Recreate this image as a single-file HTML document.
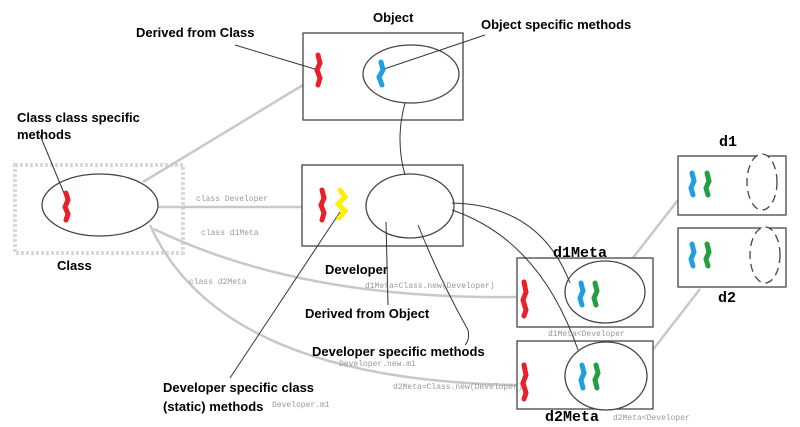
<!DOCTYPE html>
<html><head><meta charset="utf-8"><style>
body{margin:0;background:#fff;}
svg{display:block}
.b{font-family:"Liberation Sans",sans-serif;font-weight:bold;font-size:13px;fill:#000}
.m{font-family:"Liberation Mono",monospace;font-size:8px;fill:#999}
.mb{font-family:"Liberation Mono",monospace;font-weight:bold;font-size:15px;fill:#000}
</style></head><body>
<svg width="800" height="427" viewBox="0 0 800 427">
<g fill="none" stroke="#c8c8c8" stroke-width="2.5">
<rect x="15" y="165" width="168" height="88" stroke-dasharray="3,2" stroke="#dadada" stroke-width="4"/>
<line x1="143" y1="182" x2="303" y2="85"/>
<line x1="158" y1="207" x2="302" y2="207"/>
<path d="M154 229 Q300 300 516 297"/>
<path d="M150 225 Q220 380 517 385"/>
<line x1="625" y1="268" x2="678" y2="200"/>
<line x1="645" y1="360" x2="700" y2="289"/>
</g>
<g fill="#fff" stroke="#444" stroke-width="1.3">
<rect x="303" y="33" width="160" height="87"/>
<rect x="302" y="165" width="161" height="81"/>
<rect x="678" y="156" width="108" height="59"/>
<rect x="678" y="228" width="108" height="59"/>
<rect x="517" y="258" width="136" height="69"/>
<rect x="517" y="341" width="136" height="68"/>
<ellipse cx="100" cy="205" rx="58" ry="31"/>
<ellipse cx="411" cy="74" rx="48" ry="29"/>
<ellipse cx="410" cy="206" rx="44" ry="32"/>
<ellipse cx="605" cy="292" rx="40" ry="31"/>
<ellipse cx="606" cy="376" rx="41" ry="34"/>
<ellipse cx="762" cy="182" rx="15" ry="28" stroke-dasharray="8,5"/>
<ellipse cx="765" cy="255" rx="15" ry="28" stroke-dasharray="8,5"/>
</g>
<g fill="none" stroke="#333" stroke-width="1">
<path d="M405 103 Q395 140 405 175"/>
<path d="M452 203 Q540 205 570 283"/>
<path d="M452 210 Q540 240 578 350"/>
<line x1="235" y1="45" x2="318" y2="70"/>
<line x1="485" y1="35" x2="381" y2="70"/>
<line x1="40" y1="135" x2="66" y2="198"/>
<line x1="230" y1="378" x2="340" y2="212"/>
<line x1="388" y1="305" x2="386" y2="222"/>
<path d="M418 225 Q440 280 468 330 Q470 340 465 345"/>
</g>
<g stroke-width="5" stroke-linecap="round" fill="none">
<path d="M66 193 L68 200 L65 207 L68 214 L66 220" stroke="#e8202a"/>
<path d="M318 55 L320 63 L317 70 L320 78 L318 85" stroke="#e8202a"/>
<path d="M322 190 L324 198 L321 205 L324 213 L322 220" stroke="#e8202a"/>
<path d="M340 190 L345 197 L338 204 L345 211 L339 218" stroke="#ffef00"/>
<path d="M381 62 L383 70 L379 77 L382 85" stroke="#1ea0e0"/>
<path d="M524 282 L526 292 L523 300 L526 310 L524 316" stroke="#e8202a"/>
<path d="M524 365 L526 375 L523 383 L526 393 L524 399" stroke="#e8202a"/>
<path d="M581 283 L583 291 L580 298 L582 305" stroke="#1ea0e0"/>
<path d="M595 283 L597 291 L594 298 L596 305" stroke="#22a040"/>
<path d="M582 365 L584 373 L581 380 L583 388" stroke="#1ea0e0"/>
<path d="M596 365 L598 373 L595 380 L597 388" stroke="#22a040"/>
<path d="M692 173 L694 181 L691 188 L693 195" stroke="#1ea0e0"/>
<path d="M707 173 L709 181 L706 188 L708 195" stroke="#22a040"/>
<path d="M692 244 L694 252 L691 259 L693 266" stroke="#1ea0e0"/>
<path d="M707 244 L709 252 L706 259 L708 266" stroke="#22a040"/>
</g>
<text class="b" x="373" y="22">Object</text>
<text class="b" x="136" y="37">Derived from Class</text>
<text class="b" x="481" y="29">Object specific methods</text>
<text class="b" x="17" y="122">Class class specific</text>
<text class="b" x="17" y="139">methods</text>
<text class="b" x="57" y="270">Class</text>
<text class="b" x="325" y="274">Developer</text>
<text class="b" x="305" y="318">Derived from Object</text>
<text class="b" x="312" y="356">Developer specific methods</text>
<text class="b" x="163" y="392">Developer specific class</text>
<text class="b" x="163" y="411">(static) methods</text>
<text class="mb" x="719" y="146">d1</text>
<text class="mb" x="553" y="257">d1Meta</text>
<text class="mb" x="718" y="302">d2</text>
<text class="mb" x="545" y="421">d2Meta</text>
<text class="m" x="196" y="201">class Developer</text>
<text class="m" x="201" y="235">class d1Meta</text>
<text class="m" x="189" y="284">class d2Meta</text>
<text class="m" x="365" y="288">d1Meta=Class.new(Developer)</text>
<text class="m" x="548" y="336">d1Meta&lt;Developer</text>
<text class="m" x="339" y="366">Developer.new.m1</text>
<text class="m" x="393" y="389">d2Meta=Class.new(Developer)</text>
<text class="m" x="272" y="407">Developer.m1</text>
<text class="m" x="613" y="420">d2Meta&lt;Developer</text>
</svg>
</body></html>
